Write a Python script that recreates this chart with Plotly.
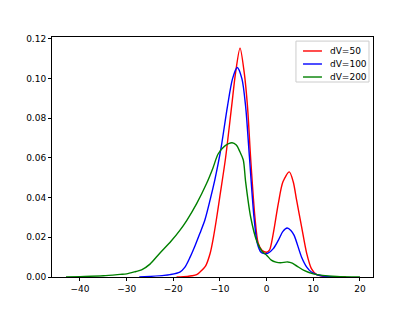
import plotly.graph_objects as go

# dV=50
x_50 = [-19.3, -17, -16, -15, -14.3, -13.1, -12.1, -11.4, -10.7, -10, -8.8, -7.5, -6.65, -5.7,
        -4.8, -4.1, -3.4, -2.5, -1.8, -1, 0, 0.6, 1.43, 2.5, 3.5, 4.86, 5.7, 6.43, 7.5, 8.6,
        9.6, 10.7, 12, 14, 17]
y_50 = [0, 0.0003, 0.0006, 0.0012, 0.0025, 0.0055, 0.012, 0.020, 0.030, 0.041, 0.060, 0.086,
        0.103, 0.1154, 0.103, 0.086, 0.059, 0.030, 0.017, 0.0135, 0.0125, 0.0135, 0.022, 0.037,
        0.048, 0.053, 0.048, 0.0387, 0.0253, 0.0118, 0.0042, 0.0012, 0.0004, 0.0001, 0]

# dV=100
x_100 = [-27.3, -25, -22, -20.7, -18.6, -17.5, -16.4, -15.3, -14.3, -13.2, -12.1, -11.1, -10.4,
         -9.7, -8.4, -7.3, -6.3, -5.3, -4.5, -3.7, -2.7, -2.0, -1.2, -0.5, 0.3, 1.43, 2.5, 3.5,
         4.4, 5.2, 5.9, 7.5, 8.6, 9.6, 11, 13, 16]
y_100 = [0, 0.0003, 0.0008, 0.0012, 0.0025, 0.005, 0.010, 0.016, 0.022, 0.029, 0.039, 0.049,
         0.057, 0.066, 0.0859, 0.100, 0.1056, 0.100, 0.086, 0.061, 0.030, 0.017, 0.0125, 0.0118,
         0.012, 0.0143, 0.0185, 0.023, 0.0247, 0.0235, 0.021, 0.010, 0.005, 0.0025, 0.001,
         0.0003, 0]

# dV=200
x_200 = [-43, -40, -35, -31.4, -30, -28, -26.8, -25, -22.9, -20.5, -18.6, -17.1, -15, -12.9,
         -11.5, -10.4, -9, -7.4, -6.5, -5.7, -5.0, -4.5, -3.4, -2.1, -1, 0, 1, 2, 3, 4.5, 5.5,
         6.5, 8, 10, 12, 15, 20]
y_200 = [0, 0.0002, 0.0006, 0.0013, 0.0016, 0.0028, 0.0036, 0.0065, 0.012, 0.018, 0.0235,
         0.0286, 0.037, 0.047, 0.055, 0.062, 0.066, 0.0677, 0.0665, 0.063, 0.059, 0.048, 0.030,
         0.018, 0.013, 0.011, 0.0085, 0.0075, 0.0072, 0.0076, 0.007, 0.0055, 0.0033, 0.0016,
         0.0008, 0.0003, 0]

series = [("dV=50", x_50, y_50, "red"),
          ("dV=100", x_100, y_100, "blue"),
          ("dV=200", x_200, y_200, "green")]

fig = go.Figure()
for name, xs, ys, color in series:
    fig.add_trace(go.Scatter(x=xs, y=ys, mode="lines", name=name, showlegend=False,
                             line=dict(color=color, width=1.4, shape="spline", smoothing=0.8)))

# matplotlib-like legend box, drawn in paper coords
fig.add_shape(type="rect", xref="paper", yref="paper", x0=0.760, x1=0.9875, y0=0.8125, y1=0.983,
              line=dict(color="#cccccc", width=1), fillcolor="white", layer="above")
for i, (name, xs, ys, color) in enumerate(series):
    ly = 0.9417 - i * 0.0542
    fig.add_shape(type="line", xref="paper", yref="paper", x0=0.782, x1=0.841, y0=ly, y1=ly,
                  line=dict(color=color, width=1.4), layer="above")
    fig.add_annotation(xref="paper", yref="paper", x=0.860, y=ly, text=name, showarrow=False,
                       xanchor="left", yanchor="middle",
                       font=dict(family="DejaVu Sans", size=9, color="black"))

axis_style = dict(showline=True, linecolor="black", linewidth=1, mirror=True,
                  ticks="outside", ticklen=3, tickwidth=1, tickcolor="black",
                  showgrid=False, zeroline=False,
                  tickfont=dict(family="DejaVu Sans", size=9, color="black"))

# page body has an 8px margin, so the figure is 8px smaller
fig.update_layout(
    width=407, height=303,
    margin=dict(l=44, r=42, t=29, b=34),
    plot_bgcolor="white", paper_bgcolor="white",
    xaxis=dict(range=[-46, 22.8], tickvals=[-40, -30, -20, -10, 0, 10, 20], **axis_style),
    yaxis=dict(range=[0, 0.121], dtick=0.02, tickformat=".2f", **axis_style),
)

fig.write_html("out.html")
